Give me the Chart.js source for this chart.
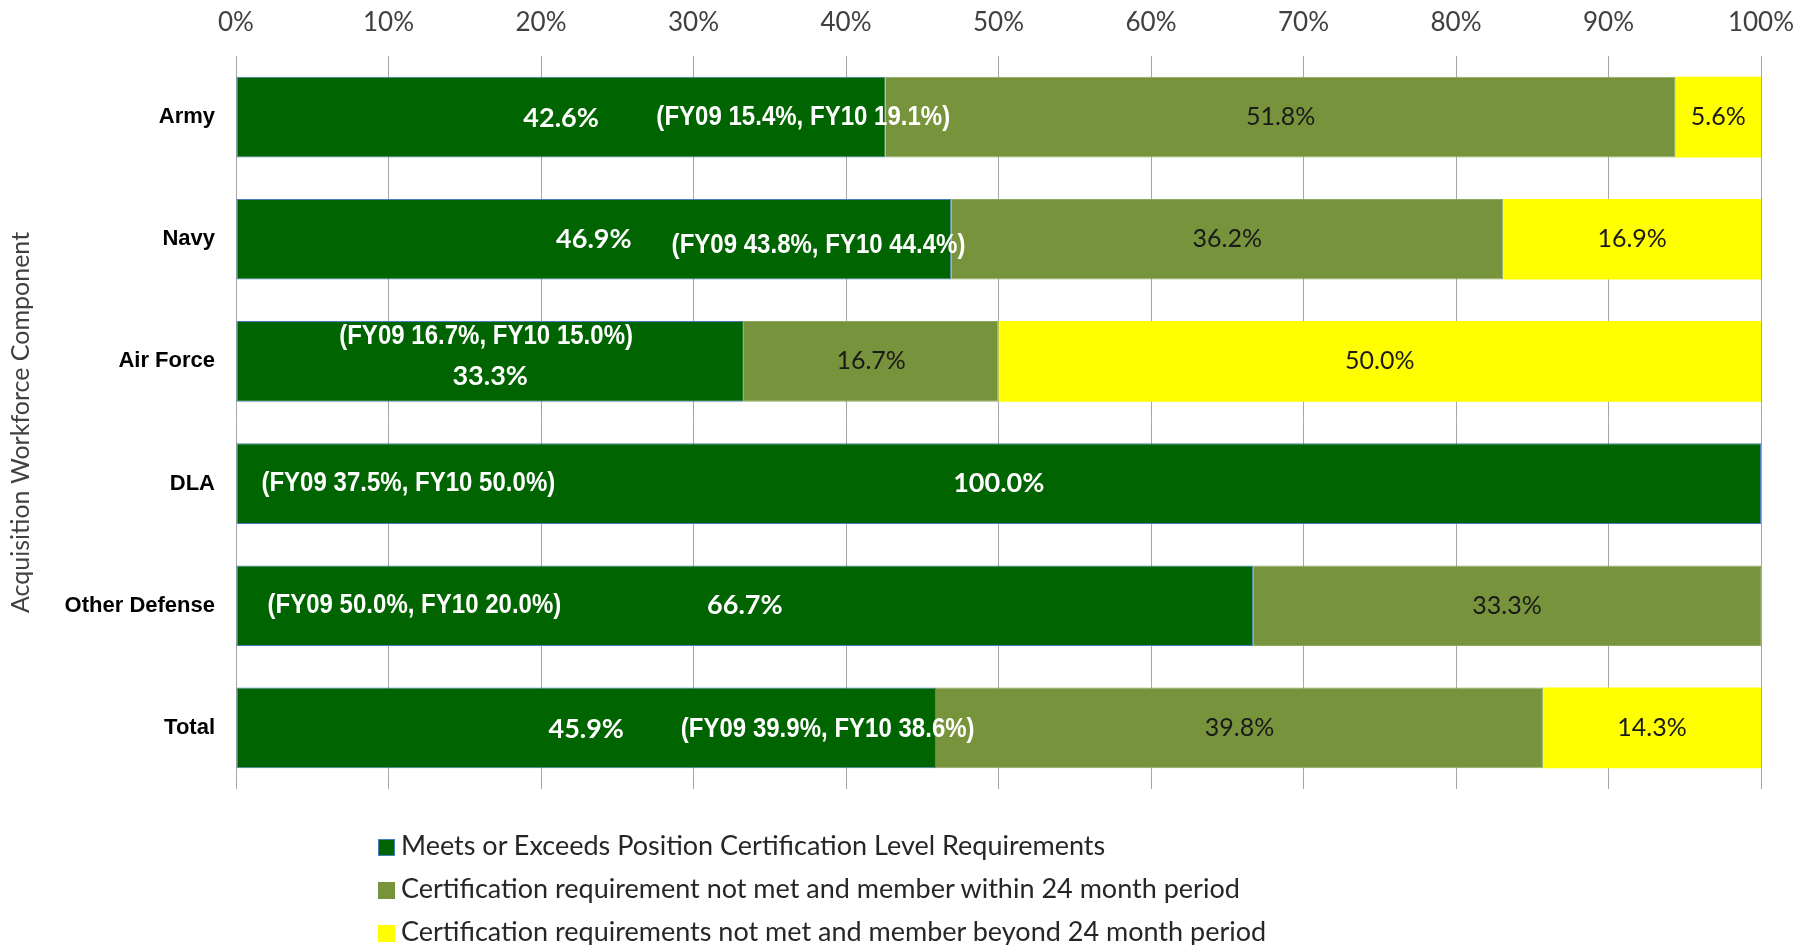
<!DOCTYPE html>
<html>
<head>
<meta charset="utf-8">
<script src="https://cdn.jsdelivr.net/npm/chart.js@4.4.1/dist/chart.umd.min.js"></script>
<style>
  body { margin: 0; background: #fff; }
  #wrap { position: relative; width: 1797px; height: 945px; }
  #legend { position: absolute; left: 378px; top: 826px; font-family: Lato, sans-serif; font-size: 27px; color: #262626; }
  #legend div { height: 43px; line-height: 38px; white-space: nowrap; }
  #legend span.box { display: inline-block; width: 17px; height: 17px; margin-right: 6px; vertical-align: -1px; box-sizing: border-box; }
</style>
</head>
<body>
<div id="wrap">
  <canvas id="chart" width="1797" height="945"></canvas>
  <div id="legend"></div>
</div>
<script>
const categories = ["Army", "Navy", "Air Force", "DLA", "Other Defense", "Total"];
const seriesNames = [
  "Meets or Exceeds Position Certification Level Requirements",
  "Certification requirement not met and member within 24 month period",
  "Certification requirements not met and member beyond 24 month period"
];
const meets = [42.6, 46.9, 33.3, 100.0, 66.7, 45.9];
const within24 = [51.8, 36.2, 16.7, 0, 33.3, 39.8];
const beyond24 = [5.6, 16.9, 50.0, 0, 0, 14.3];
const tickLabels = ["0%", "10%", "20%", "30%", "40%", "50%", "60%", "70%", "80%", "90%", "100%"];

// prior-year notes shown inside the green bars
const fyNotes = [
  "(FY09 15.4%, FY10 19.1%)",
  "(FY09 43.8%, FY10 44.4%)",
  "(FY09 16.7%, FY10 15.0%)",
  "(FY09 37.5%, FY10 50.0%)",
  "(FY09 50.0%, FY10 20.0%)",
  "(FY09 39.9%, FY10 38.6%)"
];
const fyNoteAt = [37.2, 38.2, 16.4, 11.3, 11.7, 38.8];
const fyNoteDy = [0, 6, -25, 0, 0, 2];
const meetsLabelDy = [1, 0, 15, 0, 0, 1];

const colors = ["#006400", "#77933c", "#ffff00"];

const barLabels = {
  id: "barLabels",
  afterDatasetsDraw(chart) {
    const ctx = chart.ctx;
    ctx.save();
    ctx.textAlign = "center";
    ctx.textBaseline = "middle";
    chart.data.datasets.forEach((ds, i) => {
      const meta = chart.getDatasetMeta(i);
      meta.data.forEach((bar, j) => {
        const v = ds.data[j];
        if (!v) return;
        const x = (bar.x + bar.base) / 2;
        if (i === 0) {
          ctx.font = "bold 27px Lato";
          ctx.fillStyle = "#ffffff";
          ctx.fillText(v.toFixed(1) + "%", x, bar.y + meetsLabelDy[j]);
        } else {
          ctx.font = "25px Lato";
          ctx.fillStyle = "#1a1a1a";
          ctx.fillText(v.toFixed(1) + "%", x, bar.y);
        }
      });
    });
    // FY notes, narrow bold
    const meta0 = chart.getDatasetMeta(0);
    ctx.font = "bold 27px 'Liberation Sans'";
    ctx.fillStyle = "#ffffff";
    fyNotes.forEach((t, j) => {
      const x = chart.scales.x.getPixelForValue(fyNoteAt[j]);
      const y = meta0.data[j].y + fyNoteDy[j];
      ctx.save();
      ctx.translate(x, y);
      ctx.scale(0.89, 1);
      ctx.fillText(t, 0, 0);
      ctx.restore();
    });
    ctx.restore();
  }
};

const chart = new Chart(document.getElementById("chart"), {
  type: "bar",
  data: {
    labels: categories,
    datasets: [
      { label: seriesNames[0], data: meets, backgroundColor: colors[0], borderColor: "#4a7ebb", borderWidth: 1, borderSkipped: false },
      { label: seriesNames[1], data: within24, backgroundColor: colors[1], borderColor: "#8fa860", borderWidth: 1, borderSkipped: "start" },
      { label: seriesNames[2], data: beyond24, backgroundColor: colors[2], borderWidth: 0 }
    ]
  },
  options: {
    indexAxis: "y",
    responsive: false,
    animation: false,
    layout: { padding: { left: 0, top: 0, right: 0, bottom: 156 } },
    datasets: { bar: { barPercentage: 0.66, categoryPercentage: 1 } },
    plugins: {
      legend: { display: false },
      tooltip: { enabled: false }
    },
    scales: {
      x: {
        position: "top",
        stacked: true,
        min: 0,
        max: 100,
        ticks: {
          stepSize: 10,
          padding: 18,
          color: "#404040",
          font: { family: "Lato", size: 26 },
          callback: (v, i) => tickLabels[i]
        },
        grid: { color: "#a6a6a6", drawTicks: false, lineWidth: 1 },
        border: { display: false },
        afterFit: (axis) => {
          axis.height = 56;
          axis.paddingLeft = 0;
          axis.paddingRight = 36;
        }
      },
      y: {
        stacked: true,
        ticks: {
          padding: 13,
          color: "#000000",
          font: { family: "Liberation Sans", size: 22, weight: "bold" }
        },
        grid: { display: false },
        border: { display: false },
        title: {
          display: true,
          text: "Acquisition Workforce Component",
          color: "#404040",
          font: { family: "Lato", size: 25 },
          padding: { top: 6, bottom: 0 }
        },
        afterFit: (axis) => { axis.width = 236; }
      }
    }
  },
  plugins: [barLabels]
});

// legend, one entry per line
const legend = document.getElementById("legend");
chart.data.datasets.forEach((ds, i) => {
  const row = document.createElement("div");
  const box = document.createElement("span");
  box.className = "box";
  box.style.background = ds.backgroundColor;
  if (i === 0) box.style.border = "1px solid #4a7ebb";
  row.appendChild(box);
  row.appendChild(document.createTextNode(ds.label));
  legend.appendChild(row);
});
</script>
</body>
</html>
